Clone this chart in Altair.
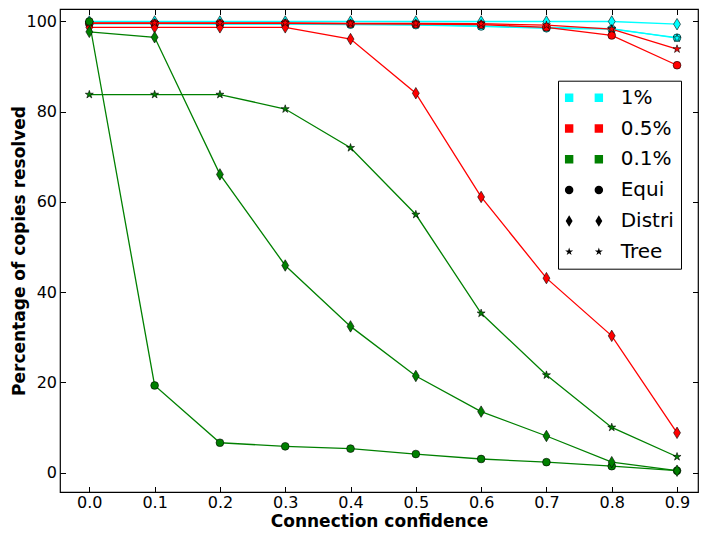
import altair as alt
import pandas as pd

# ---------------- data ----------------
x_vals = [0.0, 0.1, 0.2, 0.3, 0.4, 0.5, 0.6, 0.7, 0.8, 0.9]
x_ticks = [0.0, 0.1, 0.2, 0.3, 0.4, 0.5, 0.6, 0.7, 0.8, 0.9]
y_ticks = [0, 20, 40, 60, 80, 100]

cyan_equi = [99.5, 99.5, 99.4, 99.4, 99.3, 99.2, 98.9, 98.5, 98.3, 96.4]
cyan_distri = [100.0, 100.0, 100.0, 100.0, 100.0, 100.0, 100.0, 100.0, 100.0, 99.4]
cyan_tree = [99.6, 99.6, 99.5, 99.5, 99.4, 99.3, 99.0, 98.7, 98.4, 96.3]

red_equi = [99.6, 99.6, 99.6, 99.6, 99.5, 99.4, 99.3, 98.7, 96.9, 90.3]
red_distri = [98.7, 98.7, 98.7, 98.7, 96.1, 84.1, 61.1, 43.1, 30.3, 8.8]
red_tree = [99.7, 99.7, 99.7, 99.7, 99.6, 99.6, 99.5, 99.2, 98.3, 93.9]

green_equi = [100.0, 19.3, 6.6, 5.8, 5.3, 4.1, 3.0, 2.3, 1.4, 0.4]
green_distri = [97.7, 96.5, 66.1, 45.9, 32.4, 21.4, 13.5, 8.1, 2.3, 0.4]
green_tree = [83.8, 83.8, 83.8, 80.6, 72.0, 57.2, 35.3, 21.6, 10.0, 3.5]

percent_labels = ["1%", "0.5%", "0.1%"]
method_labels = ["Equi", "Distri", "Tree"]

# ---------------- styles ----------------
FONT = "DejaVu Sans"
COLORS = {"1%": "#00FFFF", "0.5%": "#FF0000", "0.1%": "#008000"}
W, H = 638, 483


def star_path(cx, s):
    pts = [(0, -1), (0.2245, -0.309), (0.9511, -0.309), (0.3633, 0.118),
           (0.5878, 0.809), (0, 0.382), (-0.5878, 0.809), (-0.3633, 0.118),
           (-0.9511, -0.309), (-0.2245, -0.309)]
    return "M" + "L".join(f"{cx + s * px:.4f},{s * py:.4f}" for px, py in pts) + "Z"


def pair(fn, c=1.485):
    return fn(-c) + " " + fn(c)


DIAMOND = "M0,-1L0.6,0L0,1L-0.6,0Z"
STAR = star_path(0, 1)
SHAPES = {"Equi": ("circle", 60), "Distri": (DIAMOND, 132), "Tree": (STAR, 71)}

# legend glyph pairs (1 unit = 10 px with symbolSize 400)
sq = lambda c, h=0.42: f"M{c - h:.4f},{-h}H{c + h:.4f}V{h}H{c - h:.4f}Z"
ci = lambda c, r=0.425: (f"M{c + r:.4f},0A{r},{r},0,1,1,{c - r:.4f},0"
                         f"A{r},{r},0,1,1,{c + r:.4f},0Z")
di = lambda c, h=0.575, w=0.345: (f"M{c:.4f},{-h}L{c + w:.4f},0L{c:.4f},{h}"
                                  f"L{c - w:.4f},0Z")
st = lambda c: star_path(c, 0.42)

legend_entries = percent_labels + method_labels
legend_colors = [COLORS[p] for p in percent_labels] + ["black", "black", "black"]
legend_shapes = [pair(sq)] * 3 + [pair(ci), pair(di), pair(st)]

xs = alt.Scale(domain=[-0.0449, 0.9321], nice=False, zero=False)
ys = alt.Scale(domain=[-4.32, 102.77], nice=False, zero=False)

tick_x_df = pd.DataFrame({"x": x_ticks})
tick_y_df = pd.DataFrame({"y": y_ticks})

layers = []

# main bottom axis (labels + title)
layers.append(alt.Chart(tick_x_df).mark_point(opacity=0).encode(
    x=alt.X("x:Q", scale=xs, axis=alt.Axis(
        orient="bottom", values=x_ticks, format=".1f", ticks=False, tickSize=0,
        domain=False, grid=False, labelFont=FONT, labelFontSize=16,
        labelColor="black", labelBaseline="alphabetic", labelPadding=15.3,
        labelFlush=False, title="Connection confidence", titleFont=FONT,
        titleFontSize=17, titleFontWeight="bold", titleColor="black",
        titleBaseline="alphabetic", titleY=34.5))))
# main left axis (labels + title)
layers.append(alt.Chart(tick_y_df).mark_point(opacity=0).encode(
    y=alt.Y("y:Q", scale=ys, axis=alt.Axis(
        orient="left", values=y_ticks, format="d", ticks=False, tickSize=0,
        domain=False, grid=False, labelFont=FONT, labelFontSize=16,
        labelColor="black", labelPadding=3.5, labelFlush=False,
        title="Percentage of copies resolved", titleFont=FONT, titleFontSize=17,
        titleFontWeight="bold", titleColor="black", titleAngle=270,
        titleBaseline="alphabetic", titleAlign="center", titleX=-36,
        titleY=241.5))))
# inward tick marks on all four edges
tick_style = dict(labels=False, domain=False, grid=False, ticks=True, tickSize=5.5,
                  tickColor="black", tickWidth=1, title=None)
layers.append(alt.Chart(tick_y_df).mark_point(opacity=0).encode(
    y=alt.Y("y:Q", scale=ys, axis=alt.Axis(orient="right", offset=-W,
                                           values=y_ticks, **tick_style))))
layers.append(alt.Chart(tick_y_df).mark_point(opacity=0).encode(
    y=alt.Y("y:Q", scale=ys, axis=alt.Axis(orient="left", offset=-W,
                                           values=y_ticks, **tick_style))))
layers.append(alt.Chart(tick_x_df).mark_point(opacity=0).encode(
    x=alt.X("x:Q", scale=xs, axis=alt.Axis(orient="top", offset=-H,
                                           values=x_ticks, **tick_style))))
layers.append(alt.Chart(tick_x_df).mark_point(opacity=0).encode(
    x=alt.X("x:Q", scale=xs, axis=alt.Axis(orient="bottom", offset=-H,
                                           values=x_ticks, **tick_style))))

series = [
    ("1%", "Equi", cyan_equi), ("1%", "Distri", cyan_distri), ("1%", "Tree", cyan_tree),
    ("0.5%", "Equi", red_equi), ("0.5%", "Distri", red_distri), ("0.5%", "Tree", red_tree),
    ("0.1%", "Equi", green_equi), ("0.1%", "Distri", green_distri), ("0.1%", "Tree", green_tree),
]

for pct, method, vals in series:
    df = pd.DataFrame({"x": x_vals, "y": vals})
    col = COLORS[pct]
    shape, size = SHAPES[method]
    base = alt.Chart(df).encode(
        x=alt.X("x:Q", scale=xs, axis=None),
        y=alt.Y("y:Q", scale=ys, axis=None),
    )
    layers.append(base.mark_line(color=col, strokeWidth=1.3))
    layers.append(base.mark_point(shape=shape, size=size, filled=True, fill=col,
                                  stroke="black", strokeWidth=0.6, opacity=1))

legend_opts = dict(title=None, orient="none", legendX=498, legendY=71.7,
                   labelFont=FONT, labelFontSize=20, labelColor="black",
                   symbolSize=400, symbolOffset=9, labelOffset=26.2,
                   symbolStrokeColor="black", symbolStrokeWidth=0.7,
                   symbolOpacity=1, strokeColor="black", fillColor="white",
                   padding=6.5, rowPadding=9.8, cornerRadius=0)

legend_df = pd.DataFrame({"entry": legend_entries})
layers.append(alt.Chart(legend_df).mark_point(filled=True, opacity=0).encode(
    color=alt.Color("entry:N", sort=legend_entries,
                    scale=alt.Scale(domain=legend_entries, range=legend_colors),
                    legend=alt.Legend(**legend_opts)),
    shape=alt.Shape("entry:N", sort=legend_entries,
                    scale=alt.Scale(domain=legend_entries, range=legend_shapes),
                    legend=alt.Legend(**legend_opts)),
))

chart = (
    alt.layer(*layers)
    .resolve_axis(x="independent", y="independent")
    .properties(width=W, height=H,
                autosize=alt.AutoSizeParams(type="none"),
                padding={"left": 52, "top": 1, "right": 1, "bottom": 39})
    .configure(font=FONT)
    .configure_view(stroke="black", strokeWidth=1.2)
)

chart.save("out.html", embed_options={"renderer": "svg", "actions": False})
